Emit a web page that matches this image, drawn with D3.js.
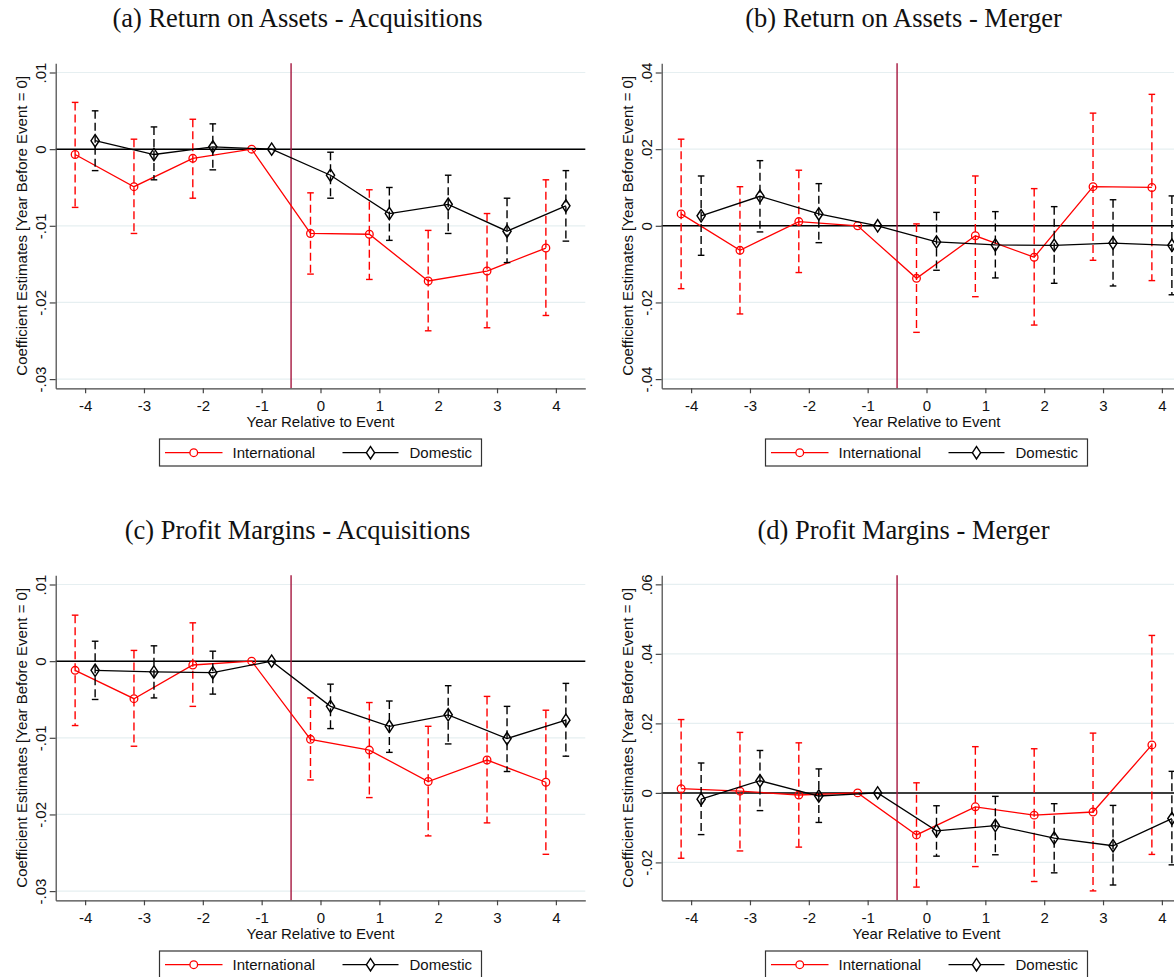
<!DOCTYPE html>
<html>
<head>
<meta charset="utf-8">
<script src="https://cdn.jsdelivr.net/npm/d3@7"></script>
<style>
    body { margin: 0; background: #fff; }
    svg { display: block; }
    .axis text { font-family: "Liberation Sans", Arial, sans-serif; font-size: 15px; fill: #111; }
    .axis path, .axis line { stroke: #444; stroke-width: 1.2; }
</style>
</head>
<body>
<div id="chart-area"></div>
<script>
// Years relative to event and the labels
var years = [-4, -3, -2, -1, 0, 1, 2, 3, 4];
var titles = [
    "(a) Return on Assets - Acquisitions",
    "(b) Return on Assets - Merger",
    "(c) Profit Margins - Acquisitions",
    "(d) Profit Margins - Merger"
];
var seriesNames = ["International", "Domestic"];

// Y axis ticks / ranges
var yTicksAcq = [0.01, 0, -0.01, -0.02, -0.03];
var yTicksRoaMer = [0.04, 0.02, 0, -0.02, -0.04];
var yTicksPmMer = [0.06, 0.04, 0.02, 0, -0.02];
var yDomainAcq = [-0.0312, 0.0112];
var yDomainRoaMer = [-0.0424, 0.0424];
var yDomainPmMer = [-0.0309, 0.0626];

// (a) Return on Assets - Acquisitions
var roaAcqIntl   = [-0.0007, -0.0049, -0.0012, 0, -0.0110, -0.0111, -0.0172, -0.0159, -0.0129];
var roaAcqIntlHi = [0.0061, 0.0013, 0.0039, null, -0.0057, -0.0053, -0.0106, -0.0084, -0.0040];
var roaAcqIntlLo = [-0.0076, -0.0110, -0.0064, null, -0.0163, -0.0170, -0.0237, -0.0233, -0.0217];
var roaAcqDom    = [0.0011, -0.0007, 0.0003, 0, -0.0034, -0.0084, -0.0072, -0.0107, -0.0074];
var roaAcqDomHi  = [0.0050, 0.0029, 0.0033, null, -0.0004, -0.0050, -0.0034, -0.0064, -0.0028];
var roaAcqDomLo  = [-0.0028, -0.0040, -0.0027, null, -0.0064, -0.0119, -0.0110, -0.0148, -0.0120];

// (b) Return on Assets - Merger
var roaMerIntl   = [0.0031, -0.0064, 0.0011, 0, -0.0137, -0.0026, -0.0082, 0.0102, 0.0100];
var roaMerIntlHi = [0.0226, 0.0102, 0.0145, null, 0.0005, 0.0130, 0.0097, 0.0294, 0.0343];
var roaMerIntlLo = [-0.0164, -0.0230, -0.0122, null, -0.0278, -0.0185, -0.0259, -0.0090, -0.0143];
var roaMerDom    = [0.0026, 0.0077, 0.0031, 0, -0.0042, -0.0050, -0.0051, -0.0045, -0.0051];
var roaMerDomHi  = [0.0130, 0.0170, 0.0110, null, 0.0035, 0.0037, 0.0050, 0.0068, 0.0078];
var roaMerDomLo  = [-0.0077, -0.0016, -0.0044, null, -0.0116, -0.0136, -0.0150, -0.0157, -0.0180];

// (c) Profit Margins - Acquisitions
var pmAcqIntl   = [-0.0012, -0.0049, -0.0005, 0, -0.0102, -0.0116, -0.0157, -0.0129, -0.0158];
var pmAcqIntlHi = [0.0060, 0.0014, 0.0050, null, -0.0048, -0.0054, -0.0085, -0.0046, -0.0064];
var pmAcqIntlLo = [-0.0084, -0.0111, -0.0059, null, -0.0155, -0.0178, -0.0228, -0.0211, -0.0252];
var pmAcqDom    = [-0.0012, -0.0014, -0.0015, 0, -0.0059, -0.0085, -0.0070, -0.0101, -0.0077];
var pmAcqDomHi  = [0.0026, 0.0020, 0.0013, null, -0.0030, -0.0052, -0.0032, -0.0059, -0.0029];
var pmAcqDomLo  = [-0.0050, -0.0048, -0.0043, null, -0.0088, -0.0119, -0.0108, -0.0144, -0.0124];

// (d) Profit Margins - Merger
var pmMerIntl   = [0.0012, 0.0005, -0.0006, 0, -0.0121, -0.0040, -0.0064, -0.0055, 0.0138];
var pmMerIntlHi = [0.0211, 0.0174, 0.0144, null, 0.0029, 0.0133, 0.0127, 0.0172, 0.0453];
var pmMerIntlLo = [-0.0188, -0.0167, -0.0156, null, -0.0271, -0.0212, -0.0255, -0.0282, -0.0177];
var pmMerDom    = [-0.0018, 0.0035, -0.0009, 0, -0.0109, -0.0094, -0.0130, -0.0152, -0.0074];
var pmMerDomHi  = [0.0086, 0.0122, 0.0069, null, -0.0037, -0.0010, -0.0031, -0.0036, 0.0062];
var pmMerDomLo  = [-0.0120, -0.0051, -0.0085, null, -0.0182, -0.0178, -0.0230, -0.0265, -0.0207];

var panels = [
    { title: titles[0], col: 0, row: 0, ticks: yTicksAcq, domain: yDomainAcq,
      intl: [roaAcqIntl, roaAcqIntlLo, roaAcqIntlHi], dom: [roaAcqDom, roaAcqDomLo, roaAcqDomHi] },
    { title: titles[1], col: 1, row: 0, ticks: yTicksRoaMer, domain: yDomainRoaMer,
      intl: [roaMerIntl, roaMerIntlLo, roaMerIntlHi], dom: [roaMerDom, roaMerDomLo, roaMerDomHi] },
    { title: titles[2], col: 0, row: 1, ticks: yTicksAcq, domain: yDomainAcq,
      intl: [pmAcqIntl, pmAcqIntlLo, pmAcqIntlHi], dom: [pmAcqDom, pmAcqDomLo, pmAcqDomHi] },
    { title: titles[3], col: 1, row: 1, ticks: yTicksPmMer, domain: yDomainPmMer,
      intl: [pmMerIntl, pmMerIntlLo, pmMerIntlHi], dom: [pmMerDom, pmMerDomLo, pmMerDomHi] }
];

var W = 1174, H = 977;
var panelW = 606, panelH = 512;
var plot = { left: 55.7, right: 585.3, top: 63.3, bottom: 388.3 };
var offset = 0.17;     // horizontal shift of the two series
var red = "#ff0000", black = "#000000";
var sans = "'Liberation Sans', Arial, sans-serif";

var svg = d3.select("#chart-area")
    .append("svg")
        .attr("width", W)
        .attr("height", H);

// Stata style tick labels: .01, -.02, 0 (plain hyphen minus)
function fmt(v) {
    if (v === 0) return "0";
    return String(+v.toFixed(3)).replace("0.", ".");
}

panels.forEach(function(p) {
    var g = svg.append("g")
        .attr("transform", "translate(" + (p.col * panelW) + "," + (p.row * panelH) + ")");

    var x = d3.scaleLinear().domain([-4.5, 4.5]).range([plot.left, plot.right]);
    var y = d3.scaleLinear().domain(p.domain).range([plot.bottom, plot.top]);

    // Title
    g.append("text")
        .attr("x", 297.5)
        .attr("y", 26.5)
        .attr("text-anchor", "middle")
        .attr("font-family", "'Liberation Serif', 'Times New Roman', serif")
        .attr("font-size", "26.5px")
        .attr("fill", "#111")
        .text(p.title);

    // Grid lines
    g.selectAll(".grid")
        .data(p.ticks)
        .enter().append("line")
            .attr("x1", plot.left)
            .attr("x2", plot.right)
            .attr("y1", function(d) { return y(d); })
            .attr("y2", function(d) { return y(d); })
            .attr("stroke", "#e6eff1")
            .attr("stroke-width", 1.2);

    // Zero line and event line
    g.append("line")
        .attr("x1", plot.left).attr("x2", plot.right)
        .attr("y1", y(0)).attr("y2", y(0))
        .attr("stroke", "#000").attr("stroke-width", 1.5);

    g.append("line")
        .attr("x1", x(-0.5)).attr("x2", x(-0.5))
        .attr("y1", plot.top).attr("y2", plot.bottom)
        .attr("stroke", "#a5173f").attr("stroke-width", 1.4);

    // Axes
    var yAxis = g.append("g")
        .attr("class", "axis")
        .attr("transform", "translate(" + plot.left + ",0)")
        .call(d3.axisLeft(y).tickValues(p.ticks).tickFormat(fmt).tickSize(6).tickSizeOuter(0));
    yAxis.selectAll("text")
        .attr("x", null)
        .attr("dy", null)
        .attr("text-anchor", "middle")
        .attr("transform", "translate(-10,0) rotate(-90)");

    g.append("g")
        .attr("class", "axis")
        .attr("transform", "translate(0," + plot.bottom + ")")
        .call(d3.axisBottom(x).tickValues(years).tickFormat(function(d) { return String(d); })
            .tickSize(5).tickPadding(7).tickSizeOuter(0));

    // Axis labels
    g.append("text")
        .attr("x", (plot.left + plot.right) / 2)
        .attr("y", 427)
        .attr("text-anchor", "middle")
        .attr("font-family", sans)
        .attr("font-size", "15px")
        .attr("fill", "#111")
        .text("Year Relative to Event");

    g.append("text")
        .attr("transform", "translate(27," + ((plot.top + plot.bottom) / 2) + ") rotate(-90)")
        .attr("text-anchor", "middle")
        .attr("font-family", sans)
        .attr("font-size", "15px")
        .attr("fill", "#111")
        .text("Coefficient Estimates [Year Before Event = 0]");

    // Series
    var series = [
        { vals: p.intl, shift: -offset, color: red, marker: "circle" },
        { vals: p.dom, shift: offset, color: black, marker: "diamond" }
    ];

    series.forEach(function(s) {
        var pts = years.map(function(yr, i) {
            return { x: yr + s.shift, v: s.vals[0][i], lo: s.vals[1][i], hi: s.vals[2][i] };
        });

        // CI bars (dashed) with caps
        var ci = pts.filter(function(d) { return d.lo !== null; });
        g.selectAll(null)
            .data(ci)
            .enter().append("line")
                .attr("x1", function(d) { return x(d.x); })
                .attr("x2", function(d) { return x(d.x); })
                .attr("y1", function(d) { return y(d.hi); })
                .attr("y2", function(d) { return y(d.lo); })
                .attr("stroke", s.color)
                .attr("stroke-width", 1.4)
                .attr("stroke-dasharray", "8,4");
        ["lo", "hi"].forEach(function(k) {
            g.selectAll(null)
                .data(ci)
                .enter().append("line")
                    .attr("x1", function(d) { return x(d.x) - 3.3; })
                    .attr("x2", function(d) { return x(d.x) + 3.3; })
                    .attr("y1", function(d) { return y(d[k]); })
                    .attr("y2", function(d) { return y(d[k]); })
                    .attr("stroke", s.color)
                    .attr("stroke-width", 1.4);
        });

        // Connecting line
        var line = d3.line()
            .x(function(d) { return x(d.x); })
            .y(function(d) { return y(d.v); });
        g.append("path")
            .datum(pts)
            .attr("d", line)
            .attr("fill", "none")
            .attr("stroke", s.color)
            .attr("stroke-width", 1.3);

        // Markers
        var sym = d3.symbol()
            .type(s.marker === "circle" ? d3.symbolCircle : d3.symbolDiamond)
            .size(s.marker === "circle" ? 46 : 44);
        g.selectAll(null)
            .data(pts)
            .enter().append("path")
                .attr("d", sym)
                .attr("transform", function(d) {
                    var r = s.marker === "diamond" ? "scale(1.15,1)" : "";
                    return "translate(" + x(d.x) + "," + y(d.v) + ")" + r;
                })
                .attr("fill", "none")
                .attr("stroke", s.color)
                .attr("stroke-width", 1.3);
    });

    // Legend
    var cx = (plot.left + plot.right) / 2;
    var leg = g.append("g").attr("transform", "translate(" + cx + ",439)");
    leg.append("rect")
        .attr("x", -161).attr("y", 0)
        .attr("width", 322).attr("height", 27)
        .attr("fill", "#fff").attr("stroke", "#333").attr("stroke-width", 1.2);

    var items = [
        { name: seriesNames[0], color: red, x0: -155.5, x1: -98, tx: -88, marker: d3.symbolCircle, size: 46 },
        { name: seriesNames[1], color: black, x0: 22, x1: 78, tx: 89, marker: d3.symbolDiamond, size: 44 }
    ];
    items.forEach(function(it) {
        leg.append("line")
            .attr("x1", it.x0).attr("x2", it.x1)
            .attr("y1", 13.7).attr("y2", 13.7)
            .attr("stroke", it.color).attr("stroke-width", 1.3);
        leg.append("path")
            .attr("d", d3.symbol().type(it.marker).size(it.size))
            .attr("transform", "translate(" + ((it.x0 + it.x1) / 2) + ",13.7)" + (it.marker === d3.symbolDiamond ? "scale(1.15,1)" : ""))
            .attr("fill", "#fff")
            .attr("stroke", it.color)
            .attr("stroke-width", 1.3);
        leg.append("text")
            .attr("x", it.tx)
            .attr("y", 19)
            .attr("font-family", sans)
            .attr("font-size", "15px")
            .attr("fill", "#111")
            .text(it.name);
    });
});
</script>
</body>
</html>
